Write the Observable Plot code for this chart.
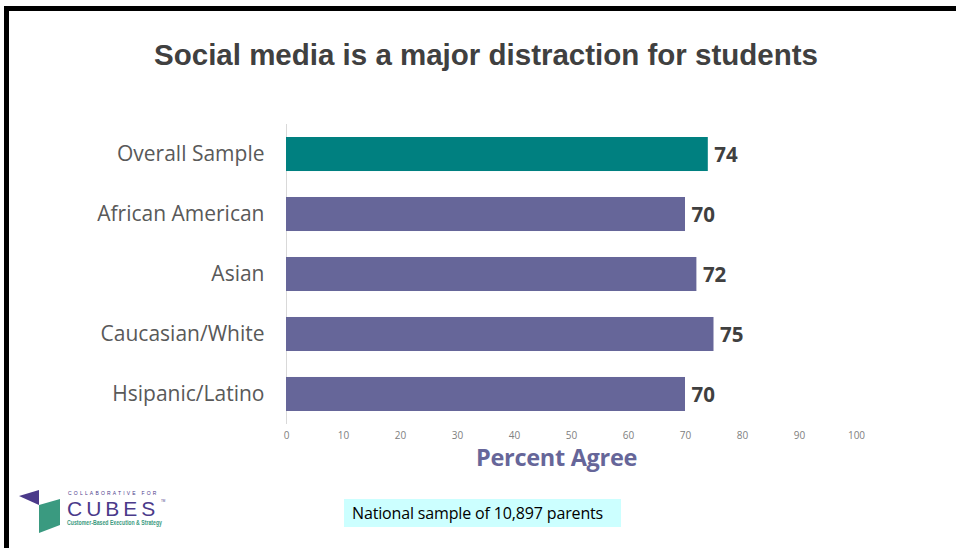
<!DOCTYPE html>
<html>
<head>
<meta charset="utf-8">
<script src="https://cdn.jsdelivr.net/npm/d3@7"></script>
<script src="https://cdn.jsdelivr.net/npm/@observablehq/plot@0.6"></script>
<style>
  html, body { margin: 0; padding: 0; background: #fff; }
  #page { position: relative; width: 956px; height: 548px; overflow: hidden; background: #fff; }
  .borderTop { position: absolute; left: 4px; top: 6px; width: 952px; height: 5px; background: #000; }
  .borderLeft { position: absolute; left: 4px; top: 6px; width: 5px; height: 542px; background: #000; }
  #title { position: absolute; left: 0; width: 972px; top: 38px; text-align: center;
    font-family: "Liberation Sans", Arial, sans-serif; font-weight: bold; font-size: 29.5px; color: #404040; }
  #chart { position: absolute; left: 0; top: 110px; }
  #xlabel { position: absolute; left: 476px; top: 446px; font-family: "Open Sans", sans-serif; line-height: 1;
    font-weight: bold; font-size: 23.5px; color: #666699; letter-spacing: -0.3px; }
  #note { position: absolute; left: 344px; top: 499px; width: 277px; height: 28px; background: #ccffff;
    font-family: "Open Sans", sans-serif; font-size: 16px; color: #000; line-height: 28px; box-sizing: border-box; padding-left: 8px; letter-spacing: -0.15px; white-space: nowrap; }
  #logo { position: absolute; left: 0; top: 480px; }
</style>
</head>
<body>
<div id="page">
  <div class="borderTop"></div>
  <div class="borderLeft"></div>
  <div id="title">Social media is a major distraction for students</div>
  <div id="chart"></div>
  <div id="xlabel">Percent Agree</div>
  <div id="note">National sample of 10,897 parents</div>
  <svg id="logo" width="200" height="60" viewBox="0 480 200 60">
    <polygon points="19,496 39,490 39,505" fill="#4b3a8a"/>
    <polygon points="39,505 60,499 60,525 39,533" fill="#3a9a80"/>
    <text x="68" y="495" font-family="Liberation Sans, Arial" font-size="5" letter-spacing="2.2" fill="#4b3a8a">COLLABORATIVE FOR</text>
    <text x="67" y="516" font-family="Liberation Sans, Arial" font-size="21" letter-spacing="4" fill="#4b3a8a">CUBES</text>
    <text x="161" y="502" font-family="Liberation Sans, Arial" font-size="3" fill="#4b3a8a">TM</text>
    <text x="67" y="525" font-family="Liberation Sans, Arial" font-weight="bold" font-size="6.5" fill="#3a9a80" textLength="95" lengthAdjust="spacingAndGlyphs">Customer-Based Execution &amp; Strategy</text>
  </svg>
</div>
<script>
const categories = ["Overall Sample", "African American", "Asian", "Caucasian/White", "Hsipanic/Latino"];
const values = [74, 70, 72, 75, 70];
const barColors = ["#008080", "#666699", "#666699", "#666699", "#666699"];
const xTicks = [0, 10, 20, 30, 40, 50, 60, 70, 80, 90, 100];

const data = categories.map((c, i) => ({category: c, value: values[i], color: barColors[i]}));

const chart = Plot.plot({
  width: 956,
  height: 360,
  marginLeft: 286,
  marginRight: 100,
  marginTop: 14,
  marginBottom: 46,
  style: {background: "transparent", overflow: "visible"},
  x: {domain: [0, 100], ticks: xTicks, label: null},
  y: {domain: categories, paddingInner: 0.433, paddingOuter: 0.2167, round: false, label: null},
  color: {type: "identity"},
  marks: [
    Plot.ruleX([0], {stroke: "#d9d9d9", strokeWidth: 1}),
    Plot.barX(data, {x: "value", y: "category", fill: "color"}),
    Plot.text(data, {x: "value", y: "category", text: d => String(d.value), textAnchor: "start", dx: 6, dy: 1,
      fontSize: 20.5, fontWeight: "bold", fill: "#404040", fontFamily: "Open Sans"}),
    Plot.axisY({tickSize: 0, tickPadding: 22, fontSize: 21, fontFamily: "Open Sans", color: "#595959", label: null}),
    Plot.axisX({ticks: xTicks, tickSize: 0, tickPadding: 7, fontSize: 10, fontFamily: "Open Sans", color: "#808080", label: null})
  ]
});
document.getElementById("chart").appendChild(chart);
</script>
</body>
</html>
